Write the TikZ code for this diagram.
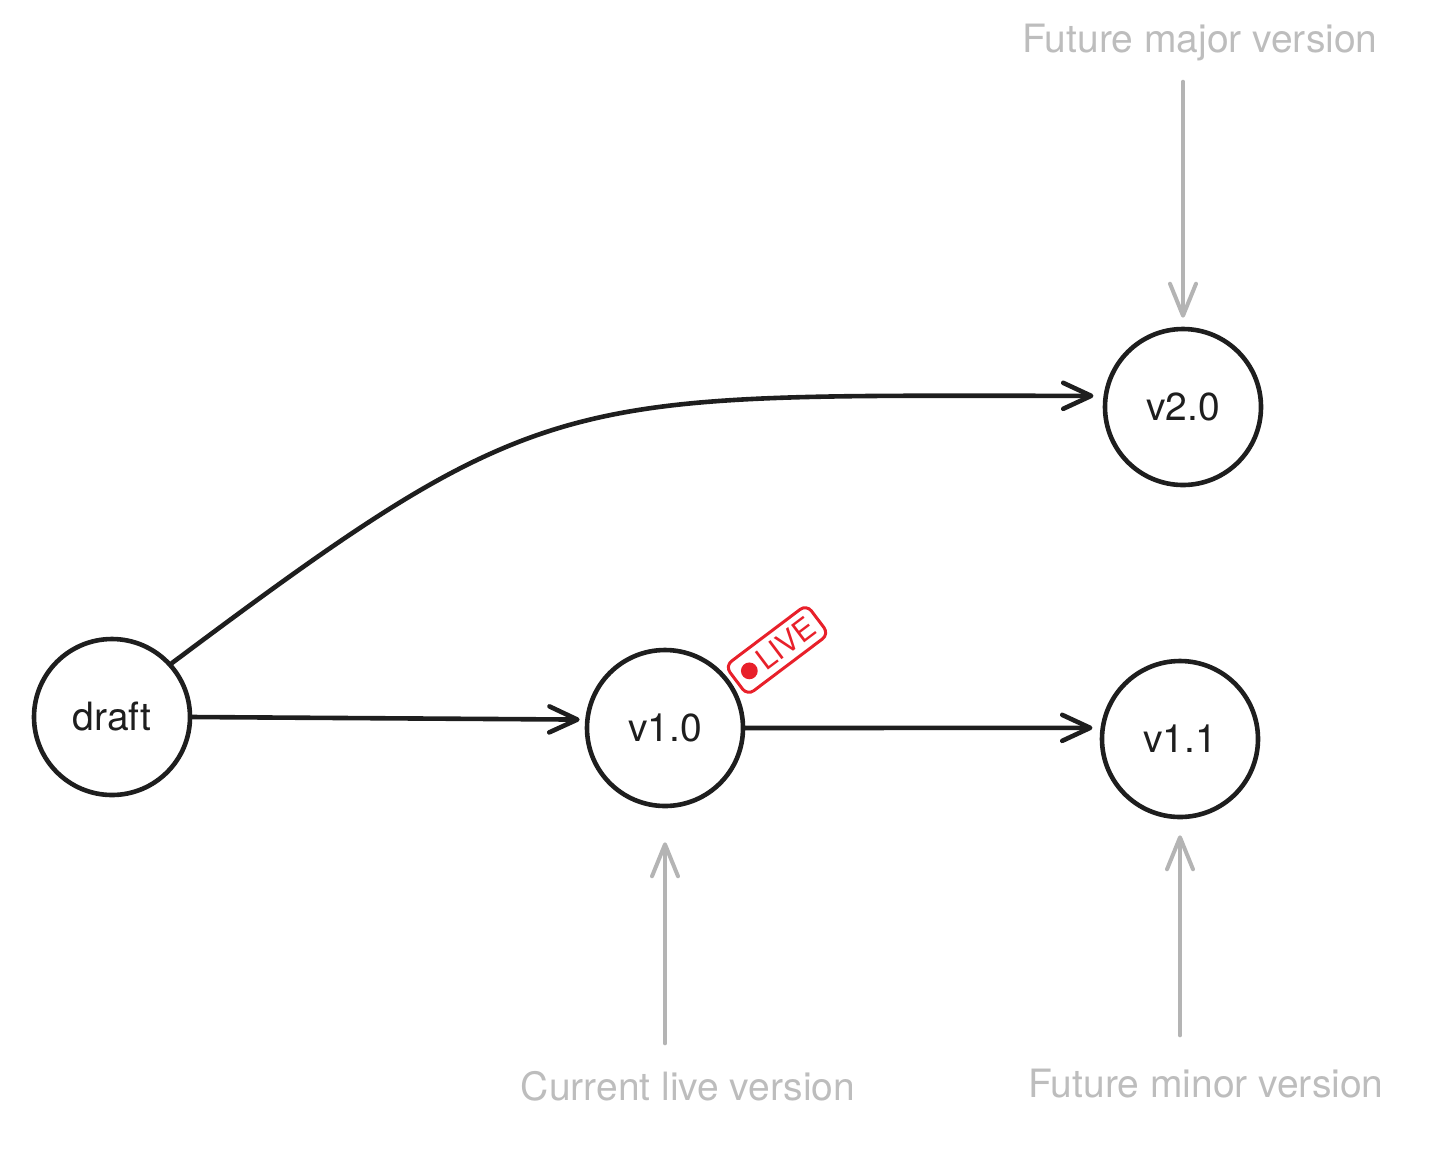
\documentclass[tikz,border=0pt]{standalone}
\usepackage{fontspec}
\setmainfont{TeX Gyre Heros}
\usetikzlibrary{arrows.meta}
\usetikzlibrary{positioning}
\usetikzlibrary{calc}
\definecolor{myink}{HTML}{1E1E1E}
\definecolor{mygray}{HTML}{B4B4B4}
\definecolor{mytext}{HTML}{BDBDBD}
\definecolor{myred}{HTML}{E8202A}
\pgfkeys{tikz/myversion/.style={circle,draw=myink,line width=2.3pt,minimum size=78pt,inner sep=0pt,font=\fontsize{19.5}{23}\selectfont,text=myink}}
\pgfkeys{tikz/myarrow/.style={draw=myink,line width=2.3pt,line cap=round,-{Straight Barb[length=14pt,width=13pt,round]}}}
\pgfkeys{tikz/mynote/.style={font=\fontsize{19.5}{23}\selectfont,text=mytext,inner sep=0pt}}
\pgfkeys{tikz/mypointer/.style={draw=mygray,line width=2pt,line cap=round,-{Straight Barb[length=16pt,width=13pt,round]}}}
\pgfkeys{tikz/mylive/.style={draw=myred,line width=1.5pt,rounded corners=4pt,minimum width=51pt,minimum height=18.5pt,inner sep=0pt,text=myred,font=\fontsize{15}{17}\selectfont}}

\begin{document}
\begin{tikzpicture}[x=0.5pt,y=-0.5pt]
    \useasboundingbox (0,0) rectangle (1456,1164);
    % versions
    \node[myversion] (draft) at (112,717) {draft};
    \node[myversion] (v10) at (665,728) {v1.0};
    \node[myversion] (v11) at (1180,739) {v1.1};
    \node[myversion] (v20) at (1183,407) {v2.0};
    \draw[myarrow, shorten >=2.75pt] (draft.east) -- (v10.174);
    \draw[myarrow, shorten >=4pt] (v10.east) -- (v11.172);
    \draw[myarrow, shorten >=5pt] (draft.42) .. controls +(377,-282) and +(-543,0) .. (v20.172);
    % live badge
    \node[mylive, rotate=37] (live) at (777,650) {\hspace*{11pt}LIVE};
    \fill[myred] ($(live.west)!0.17!(live.east)$) circle (4.2pt);
    % notes
    \node[mynote, above=132.5pt of v20, xshift=8.5pt] (major) {Future major version};
    \node[mynote, below=131.5pt of v10, xshift=11.5pt] (current) {Current live version};
    \node[mynote, below=124.5pt of v11, xshift=13pt] (minor) {Future minor version};
    \draw[mypointer, shorten <=10pt, shorten >=4.5pt] (major.south -| v20) -- (v20.north);
    \draw[mypointer, shorten <=14pt, shorten >=17pt] (current.north -| v10) -- (v10.south);
    \draw[mypointer, shorten <=16.5pt, shorten >=8pt] (minor.north -| v11) -- (v11.south);
\end{tikzpicture}
\end{document}
